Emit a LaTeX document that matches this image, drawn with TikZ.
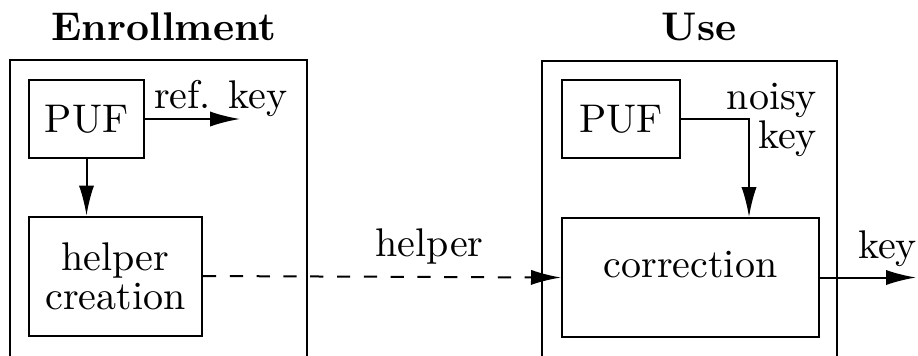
\documentclass[tikz,border=0pt]{standalone}
\usepackage{fontspec}
\usetikzlibrary{arrows.meta}
\begin{document}
\begin{tikzpicture}[x=0.25pt,y=-0.25pt,line width=0.5pt,
  every node/.style={font=\fontsize{10pt}{9.75pt}\selectfont},
  block/.style={draw,rectangle,inner sep=0pt,align=center},
  flow/.style={-{Latex[length=7.5pt,width=3.8pt]}},
  title/.style={font=\bfseries,anchor=base,inner sep=0pt},
  tag/.style={anchor=base,inner sep=0pt}]
\useasboundingbox (0,0) rectangle (918,355);

% open-bottom frames of the two phases
\draw (10,360) -- (10,60) -- (307,60) -- (307,360);
\draw (542,360) -- (542,61) -- (837,61) -- (837,360);
\node[title] (tenr) at (164,40) {Enrollment};
\node[title] (tuse) at (699,40) {Use};

% enrollment
\node[block,minimum width=28.75pt,minimum height=19.5pt] (puf1) at (86.5,119) {PUF};
\node[block,minimum width=43.25pt,minimum height=29.75pt] (help) at (115.5,276) {helper\\creation};
\coordinate (refend) at (240,119);
\draw[flow] (puf1.east) -- (refend);
\node[tag] (reflbl) at (221,108) {ref. key};
\draw[flow] (puf1.south) -- (puf1.south |- help.north);

% use: baseline of the text sits on the middle of the box
\node[block,minimum width=64.25pt,minimum height=29.75pt,
      text height=6.7pt,text depth=6.7pt] (corr) at (690.5,277.5) {correction};
\node[block,minimum width=29.5pt,minimum height=19.5pt] (puf2) at (621,119) {PUF};
\coordinate (bend) at (749,119);
\draw[flow] (puf2.east) -- (bend) -- (bend |- corr.north);
\node[align=right,inner sep=0pt,anchor=east] (noisy) at (818,120) {noisy\\key};
\coordinate (keyend) at (916,277.5);
\draw[flow] (corr.east) -- (keyend);
\node[tag] (keylbl) at (887.5,258) {key};

% helper data handed over
\draw[flow,dash pattern=on 3.3pt off 3.4pt] (help.east) -- (corr.west)
  node[tag,pos=0.633,yshift=5pt] (hlbl) {helper};
\end{tikzpicture}
\end{document}
